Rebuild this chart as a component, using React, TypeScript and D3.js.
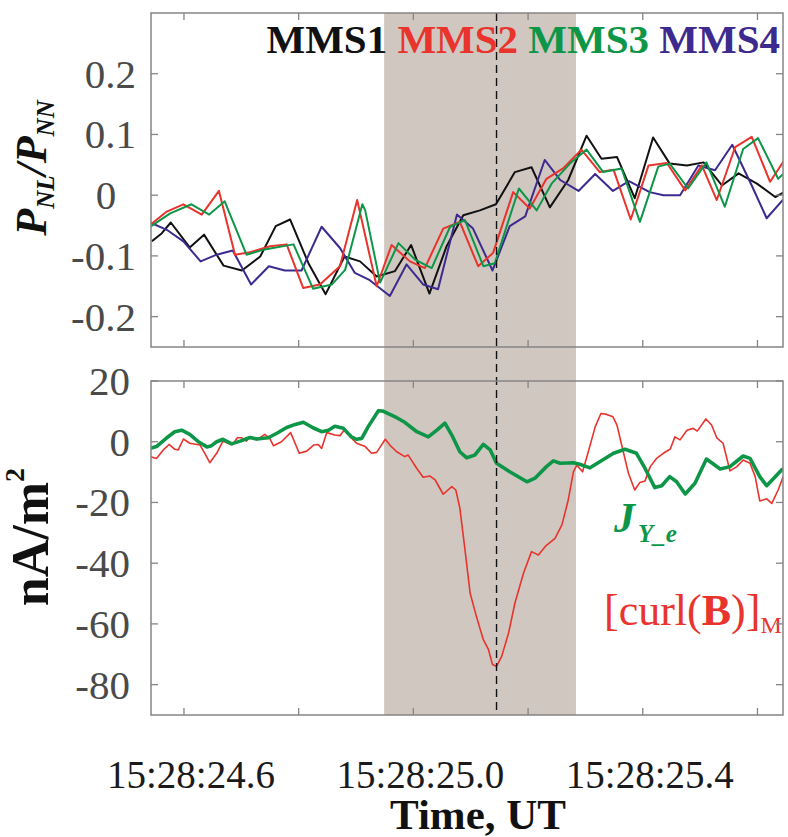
import React from "react";
import * as d3 from "d3";

// Time is in milliseconds after 15:28:24 UT.
const timeDomain = [542.5, 1644.5];
const timeTicks = [600, 800, 1000, 1200, 1400, 1600];
const timeTickLabels = ["15:28:24.6", "", "15:28:25.0", "", "15:28:25.4", ""];
const shadeSpan = [949, 1283.5];
const markerTime = 1145;

const pDomain = [-0.25, 0.3];
const pTicks = [0.2, 0.1, 0, -0.1, -0.2];
const pTickLabels = ["0.2", "0.1", "0", "-0.1", "-0.2"];

const jDomain = [-90, 20];
const jTicks = [20, 0, -20, -40, -60, -80];
const jTickLabels = ["20", "0", "-20", "-40", "-60", "-80"];

// P_NL / P_NN for each spacecraft: [time ms, value]
const mms1: [number, number][] = [
  [544, -0.076], [561, -0.063], [577, -0.045], [610, -0.086], [635, -0.065], [669, -0.116],
  [701, -0.124], [733, -0.101], [760, -0.051], [785, -0.04], [817, -0.112], [847, -0.163],
  [880, -0.101], [907, -0.109], [936, -0.134], [968, -0.125], [996, -0.082], [1028, -0.162],
  [1058, -0.084], [1087, -0.033], [1116, -0.025], [1144, -0.015], [1177, 0.038], [1206, 0.046],
  [1238, -0.02], [1270, 0.025], [1302, 0.098], [1328, 0.06], [1355, 0.063], [1386, -0.005],
  [1418, 0.095], [1447, 0.052], [1477, 0.049], [1506, 0.054], [1538, 0.016], [1567, 0.036],
  [1599, 0.019], [1631, -0.003], [1645, 0.004],
];
const mms2: [number, number][] = [
  [541, -0.049], [570, -0.027], [599, -0.015], [631, -0.032], [661, 0.007], [689, -0.098],
  [715, -0.094], [750, -0.084], [779, -0.081], [808, -0.153], [837, -0.147], [872, -0.117],
  [902, -0.008], [936, -0.15], [962, -0.082], [994, -0.109], [1020, -0.12], [1052, -0.055],
  [1081, -0.044], [1113, -0.117], [1139, -0.095], [1174, 0.005], [1203, -0.022], [1232, 0.027],
  [1261, 0.044], [1293, 0.075], [1325, 0.038], [1349, 0.042], [1379, -0.04], [1410, 0.049],
  [1442, 0.053], [1474, 0.008], [1503, 0.049], [1529, -0.008], [1561, 0.079], [1590, 0.096],
  [1622, 0.022], [1645, 0.055],
];
const mms3: [number, number][] = [
  [541, -0.052], [576, -0.03], [613, -0.015], [644, -0.032], [671, -0.01], [709, -0.098],
  [738, -0.09], [791, -0.081], [825, -0.154], [858, -0.147], [881, -0.123], [911, -0.015],
  [916, -0.025], [942, -0.144], [974, -0.079], [1003, -0.106], [1032, -0.12], [1064, -0.052],
  [1090, -0.041], [1122, -0.117], [1142, -0.112], [1184, 0.011], [1215, -0.025], [1241, 0.019],
  [1273, 0.052], [1302, 0.075], [1331, 0.038], [1363, 0.044], [1395, -0.044], [1427, 0.047],
  [1447, 0.052], [1479, 0.011], [1511, 0.054], [1543, -0.019], [1575, 0.076], [1601, 0.094],
  [1636, 0.027], [1645, 0.035],
];
const mms4: [number, number][] = [
  [541, -0.045], [570, -0.057], [599, -0.076], [629, -0.109], [657, -0.098], [685, -0.091],
  [717, -0.147], [748, -0.117], [776, -0.124], [805, -0.124], [840, -0.052], [872, -0.087],
  [898, -0.128], [924, -0.14], [959, -0.166], [988, -0.114], [1017, -0.147], [1043, -0.155],
  [1076, -0.032], [1104, -0.055], [1138, -0.124], [1168, -0.051], [1195, -0.035], [1229, 0.058],
  [1256, 0.025], [1288, 0.007], [1317, 0.035], [1348, 0.007], [1376, 0.023], [1412, 0.005],
  [1436, 0.0], [1465, 0.0], [1497, 0.049], [1526, 0.041], [1556, 0.083], [1590, 0.016],
  [1616, -0.038], [1645, -0.007],
];

// Electron current density J_Y_e (nA/m^2)
const jye: [number, number][] = [
  [541, -2.2], [552, -1.6], [570, 1.3], [584, 3.3], [596, 3.8], [610, 2.4], [625, 0], [640, -1.7],
  [648, -1.3], [657, 0], [668, 0.8], [683, -0.7], [698, 0.2], [715, 1.4], [727, 0.9], [747, 1.3],
  [762, 2.8], [779, 4.7], [794, 5.7], [808, 6.4], [825, 4.6], [840, 3.3], [852, 3.8], [863, 5.1],
  [878, 4.4], [892, 1.6], [901, 0.8], [910, 1.1], [921, 4.9], [939, 10.2], [947, 10.1], [971, 7.9],
  [985, 6.4], [1006, 3.3], [1026, 1.6], [1041, 3.8], [1055, 6.1], [1067, 2.2], [1081, -3.3],
  [1093, -5.3], [1107, -4.4], [1122, -0.9], [1134, -2.7], [1145, -7.1], [1168, -9.9], [1198, -13.2],
  [1212, -12.0], [1232, -8.2], [1244, -6.3], [1256, -7.1], [1279, -6.9], [1290, -7.4], [1308, -8.6],
  [1325, -6.6], [1349, -3.8], [1369, -2.5], [1389, -3.8], [1404, -8.8], [1421, -15.1], [1433, -14.5],
  [1447, -11.5], [1459, -13.2], [1474, -17.2], [1491, -13.7], [1511, -5.7], [1535, -9.0], [1552, -8.2],
  [1575, -4.7], [1587, -5.5], [1604, -11.5], [1616, -14.5], [1631, -11.5], [1642, -9.3], [1645, -9.0],
];

// [curl(B)]_M (nA/m^2)
const curlB: [number, number][] = [
  [541, -4.9], [552, -5.5], [564, -2.7], [574, -0.9], [584, -2.5], [590, -2.7], [599, 0.9], [610, -0.5],
  [628, -1.1], [637, -4.1], [645, -6.9], [657, -3.8], [668, 0.2], [677, -0.5], [685, -0.9], [693, 1.3],
  [701, 1.3], [709, 0.2], [715, 1.6], [727, 0.6], [741, 2.4], [749, 1.3], [756, -1.3], [770, 0],
  [786, 3.0], [801, -3.8], [814, -3.1], [826, -1.1], [834, -0.9], [840, -2.2], [849, 3.0], [863, 2.2],
  [872, 2.0], [879, 3.8], [890, 1.6], [901, -0.5], [916, -1.6], [927, -3.8], [936, -3.5], [951, 0.8],
  [959, -1.1], [971, -3.3], [985, -4.9], [991, -4.4], [1006, -8.8], [1017, -11.7], [1029, -11.3],
  [1038, -12.6], [1052, -17.3], [1067, -14.8], [1074, -15.9], [1081, -21.8], [1090, -35.6],
  [1099, -49.9], [1110, -57.6], [1122, -65.2], [1131, -68.5], [1138, -73.4], [1145, -74.0],
  [1154, -70.7], [1166, -63.0], [1177, -53.2], [1192, -43.3], [1206, -36.2], [1218, -37.3],
  [1230, -34.5], [1247, -31.8], [1259, -27.4], [1270, -19.2], [1279, -9.9], [1285, -7.7],
  [1295, -9.9], [1305, -3.3], [1317, 4.9], [1327, 9.3], [1337, 9.0], [1348, 8.2], [1355, 5.5],
  [1366, -3.3], [1375, -10.4], [1386, -15.9], [1395, -13.4], [1404, -12.9], [1413, -8.2],
  [1424, -5.5], [1436, -3.8], [1448, -2.4], [1456, 1.6], [1465, 0.6], [1477, 3.8], [1488, 4.4],
  [1495, 3.5], [1510, 7.5], [1520, 5.5], [1529, 1.3], [1540, -0.5], [1552, -9.6], [1564, -8.2],
  [1575, -6.0], [1587, -7.1], [1596, -11.5], [1604, -19.5], [1616, -18.8], [1625, -20.3],
  [1636, -15.9], [1645, -11.5],
];

const COLORS = {
  mms1: "#111111",
  mms2: "#e8342c",
  mms3: "#0e9648",
  mms4: "#3d2a8e",
  jye: "#0e9648",
  curl: "#e8342c",
  shade: "#d0c7c0",
  frame: "#858585",
};

const SERIF = "Liberation Serif";

const X0 = 151;
const X1 = 783;
const TOP = { y0: 13, y1: 347 };
const BOT = { y0: 381, y1: 715 };
const TICK = 7;

export default function App() {
  const x = d3.scaleLinear().domain(timeDomain).range([X0, X1]);
  const yP = d3.scaleLinear().domain(pDomain).range([TOP.y1, TOP.y0]);
  const yJ = d3.scaleLinear().domain(jDomain).range([BOT.y1, BOT.y0]);

  const lineP = d3
    .line<[number, number]>()
    .x((d) => x(d[0]))
    .y((d) => yP(d[1]));
  const lineJ = d3
    .line<[number, number]>()
    .x((d) => x(d[0]))
    .y((d) => yJ(d[1]));

  const frame = (p: { y0: number; y1: number }, key: string) => (
    <g key={key}>
      <rect x={X0} y={p.y0} width={X1 - X0} height={p.y1 - p.y0} fill="none" stroke={COLORS.frame} strokeWidth={1.5} />
      {timeTicks.map((t) => (
        <g key={t}>
          <line x1={x(t)} x2={x(t)} y1={p.y0} y2={p.y0 + TICK} stroke={COLORS.frame} strokeWidth={1.3} />
          <line x1={x(t)} x2={x(t)} y1={p.y1} y2={p.y1 - TICK} stroke={COLORS.frame} strokeWidth={1.3} />
        </g>
      ))}
    </g>
  );

  const yTicks = (vals: number[], scale: d3.ScaleLinear<number, number>, key: string) => (
    <g key={key}>
      {vals.map((v) => (
        <g key={v}>
          <line x1={X0} x2={X0 + TICK} y1={scale(v)} y2={scale(v)} stroke={COLORS.frame} strokeWidth={1.3} />
          <line x1={X1} x2={X1 - TICK} y1={scale(v)} y2={scale(v)} stroke={COLORS.frame} strokeWidth={1.3} />
        </g>
      ))}
    </g>
  );

  return (
    <svg
      width={788}
      height={837}
      viewBox="0 0 788 837"
      style={{ position: "absolute", left: 0, top: 0, background: "#fff", fontFamily: SERIF }}
    >
      <defs>
        <clipPath id="clipTop">
          <rect x={X0} y={TOP.y0} width={X1 - X0} height={TOP.y1 - TOP.y0} />
        </clipPath>
        <clipPath id="clipBot">
          <rect x={X0} y={BOT.y0} width={X1 - X0} height={BOT.y1 - BOT.y0} />
        </clipPath>
      </defs>

      {/* highlighted interval spanning both panels */}
      <rect
        x={x(shadeSpan[0])}
        y={TOP.y0}
        width={x(shadeSpan[1]) - x(shadeSpan[0])}
        height={BOT.y1 - TOP.y0}
        fill={COLORS.shade}
      />

      {/* top panel: P_NL / P_NN */}
      <g clipPath="url(#clipTop)" fill="none" strokeWidth={2} strokeLinejoin="round">
        <path d={lineP(mms1) ?? ""} stroke={COLORS.mms1} />
        <path d={lineP(mms4) ?? ""} stroke={COLORS.mms4} />
        <path d={lineP(mms2) ?? ""} stroke={COLORS.mms2} />
        <path d={lineP(mms3) ?? ""} stroke={COLORS.mms3} />
      </g>

      {/* bottom panel: currents */}
      <g clipPath="url(#clipBot)" fill="none" strokeLinejoin="round">
        <path d={lineJ(curlB) ?? ""} stroke={COLORS.curl} strokeWidth={1.6} />
        <path d={lineJ(jye) ?? ""} stroke={COLORS.jye} strokeWidth={3.6} />
        <text x={604} y={625} fill={COLORS.curl} stroke="none" fontSize={44} style={{ fontFamily: SERIF }}>
          [curl(<tspan fontWeight="bold">B</tspan>)]
          <tspan fontSize={24} dy={8}>M</tspan>
        </text>
      </g>

      {/* event time marker */}
      <line
        x1={x(markerTime)}
        x2={x(markerTime)}
        y1={TOP.y0}
        y2={BOT.y1}
        stroke="#111"
        strokeWidth={1.4}
        strokeDasharray="8,5"
      />

      {frame(TOP, "ft")}
      {frame(BOT, "fb")}
      {yTicks(pTicks, yP, "tp")}
      {yTicks(jTicks, yJ, "tj")}

      {/* y tick labels */}
      <g fontSize={41} fill="#4a4a4a" style={{ fontFamily: SERIF }}>
        {pTicks.map((v, i) =>
          pTickLabels[i] === "0" ? (
            <text key={v} x={106} y={yP(v) + 14} textAnchor="middle">
              {pTickLabels[i]}
            </text>
          ) : (
            <text key={v} x={136} y={yP(v) + 14} textAnchor="end">
              {pTickLabels[i]}
            </text>
          )
        )}
        {jTicks.map((v, i) => (
          <text key={v} x={130} y={yJ(v) + 14} textAnchor="end">
            {jTickLabels[i]}
          </text>
        ))}
      </g>

      {/* time tick labels */}
      <g fontSize={39} fill="#1a1a1a" textAnchor="middle" style={{ fontFamily: SERIF }}>
        {timeTicks.map((t, i) =>
          timeTickLabels[i] ? (
            <text key={t} x={x(t) + 7} y={788}>
              {timeTickLabels[i]}
            </text>
          ) : null
        )}
      </g>

      {/* legend */}
      <text x={780} y={53} fontSize={41} fontWeight="bold" textAnchor="end" style={{ fontFamily: SERIF }}>
        <tspan fill={COLORS.mms1}>MMS1 </tspan>
        <tspan fill={COLORS.mms2}>MMS2 </tspan>
        <tspan fill={COLORS.mms3}>MMS3 </tspan>
        <tspan fill={COLORS.mms4}>MMS4</tspan>
      </text>

      {/* J_Y_e label */}
      <text
        x={614}
        y={532}
        fill={COLORS.jye}
        fontWeight="bold"
        fontStyle="italic"
        fontSize={42}
        style={{ fontFamily: SERIF }}
      >
        J
        <tspan fontSize={25} dy={10} dx={3}>Y_e</tspan>
      </text>

      {/* axis titles */}
      <text
        transform="translate(46,168) rotate(-90)"
        textAnchor="middle"
        fontSize={44}
        fontWeight="bold"
        fontStyle="italic"
        fill="#111"
        style={{ fontFamily: SERIF }}
      >
        P<tspan fontSize={25} dy={8}>NL</tspan>
        <tspan dy={-8}>/P</tspan>
        <tspan fontSize={25} dy={8}>NN</tspan>
      </text>
      <text
        transform="translate(48,537) rotate(-90)"
        textAnchor="middle"
        fontSize={52}
        fontWeight="bold"
        fill="#111"
        style={{ fontFamily: SERIF }}
      >
        nA/m<tspan fontSize={28} dy={-24}>2</tspan>
      </text>
      <text
        x={478}
        y={829}
        textAnchor="middle"
        fontSize={43}
        fontWeight="bold"
        fill="#111"
        style={{ fontFamily: SERIF }}
      >
        Time, UT
      </text>
    </svg>
  );
}
